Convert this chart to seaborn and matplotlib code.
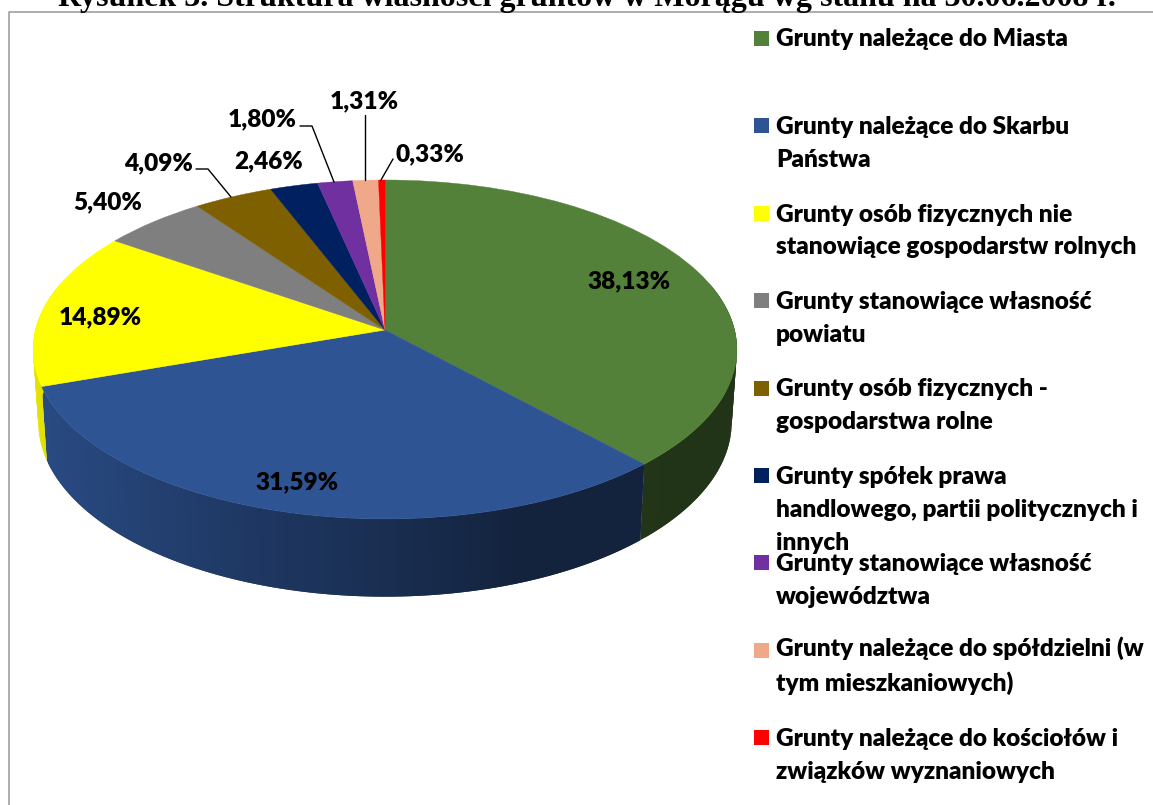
import numpy as np
import seaborn as sns
import matplotlib
matplotlib.use("Agg")
import matplotlib.pyplot as plt
from matplotlib.patches import Rectangle
from matplotlib.transforms import Transform

# dane
categories = [
    "Grunty należące do Miasta",
    "Grunty należące do Skarbu\nPaństwa",
    "Grunty osób fizycznych nie\nstanowiące gospodarstw rolnych",
    "Grunty stanowiące własność\npowiatu",
    "Grunty osób fizycznych -\ngospodarstwa rolne",
    "Grunty spółek prawa\nhandlowego, partii politycznych i\ninnych",
    "Grunty stanowiące własność\nwojewództwa",
    "Grunty należące do spółdzielni (w\ntym mieszkaniowych)",
    "Grunty należące do kościołów i\nzwiązków wyznaniowych",
]
shares = [38.13, 31.59, 14.89, 5.40, 4.09, 2.46, 1.80, 1.31, 0.33]
colors = ["#54813A", "#2E5494", "#FFFF00", "#7F7F7F", "#7F6000",
          "#002060", "#7030A0", "#F0A88A", "#FF0000"]
title = "Rysunek 3. Struktura własności gruntów w Morągu wg stanu na 30.06.2008 r."

# uklad (piksele obrazka)
label_pos = [(629, 281), (297, 482), (100, 317), (108, 202), (158, 163),
             (269, 161), (262, 119), (364, 101), (430, 154)]
leaders = [
    [(196, 169), (208, 169), (231, 197)],
    [(300, 126), (312, 126), (334, 182)],
    [(365, 115), (365, 180)],
    [(393, 159), (381, 180)],
]
CX, CY, RX, RY, K = 385, 330, 349.6, 167.25, 0.115


class Tilt(Transform):
    # kolo jednostkowe -> nachylona tarcza w perspektywie
    input_dims = 2
    output_dims = 2

    def transform_non_affine(self, values):
        values = np.asarray(values, dtype=float)
        w = 1 + K * values[:, 1]
        return np.column_stack([CX + RX * values[:, 0] / w,
                                CY - RY * values[:, 1] / w])


def side_shade(x):
    return np.interp(x, [33, 45, 200, 385, 520, 740],
                     [0.90, 0.88, 0.72, 0.55, 0.42, 0.40])


sns.set_theme(style="white")
plt.rcParams["font.family"] = ["Lato", "DejaVu Sans"]

fig = plt.figure(figsize=(11.53, 8.05), dpi=100)
ax = fig.add_axes([0, 0, 1, 1])

wedges, _ = ax.pie(shares, colors=colors, startangle=90, counterclock=False,
                   wedgeprops={"linewidth": 0.3, "zorder": 3})

tilt = Tilt()
for w in wedges:
    w.set_edgecolor(w.get_facecolor())
    w.set_transform(tilt + ax.transData)

ax.set_aspect("auto")
ax.set_xlim(0, 1153)
ax.set_ylim(805, 0)
ax.axis("off")

# bok tarczy - paski zachodza na siebie, zeby nie bylo szwow
for w, c in zip(wedges, colors):
    steps = np.append(np.arange(w.theta1, w.theta2, 1.0), w.theta2)
    rgb = np.array(matplotlib.colors.to_rgb(c))
    for a, b in zip(steps[:-1], steps[1:]):
        th = np.radians(np.linspace(a, min(b + 1.0, w.theta2), 3))
        if np.sin(th).max() > 0.3:
            continue
        top = tilt.transform(np.column_stack([np.cos(th), np.sin(th)]))
        low = np.column_stack([CX + 0.985 * (top[:, 0] - CX),
                               CY + 72 + 1.03 * (top[:, 1] - CY)])
        quad = np.vstack([top, low[::-1]])
        shade = rgb * side_shade(quad[:, 0].mean())
        ax.fill(quad[:, 0], quad[:, 1], color=shade, lw=0, zorder=2)

# etykiety procentowe
for v, (x, y) in zip(shares, label_pos):
    ax.text(x, y, f"{v:.2f}%".replace(".", ","), ha="center", va="center",
            fontsize=17.6, fontweight=800, color="black", zorder=5)

for pts in leaders:
    xs, ys = zip(*pts)
    ax.plot(xs, ys, color="black", lw=1, zorder=4)

# legenda (baseline liczy sie od ostatniej linii)
for i, (name, c) in enumerate(zip(categories, colors)):
    y = 38.5 + 87.4 * i
    ax.add_patch(Rectangle((754, y - 7.5), 15, 15, facecolor=c, lw=0, zorder=4))
    ax.text(776, y + 8 + 33 * name.count("\n"), name, ha="left", va="baseline",
            fontsize=17.6, fontweight=800, color="black", linespacing=1.6, zorder=5)

# ramka i tytul
ax.plot([9, 9, 1153], [805, 12, 12], color="#A0A0A0", lw=1.2, zorder=1)
ax.text(587, 6, title, ha="center", va="baseline", fontsize=23,
        fontweight="bold", family="Liberation Serif", color="black", zorder=6)

fig.savefig("out.png", dpi=100)
